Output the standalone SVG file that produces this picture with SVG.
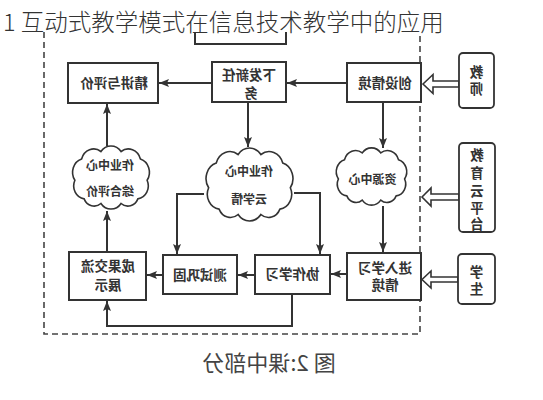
<svg xmlns="http://www.w3.org/2000/svg" xmlns:xlink="http://www.w3.org/1999/xlink" width="543" height="400" viewBox="0 0 543 400">
<style>
.bx{fill:#fff;stroke:#333;stroke-width:2}
.side{fill:#fff;stroke:#333;stroke-width:1.8}
.cloud{fill:#fff;stroke:#333;stroke-width:1.6}
.ln{fill:none;stroke:#333;stroke-width:2}
.dash{fill:none;stroke:#444;stroke-width:1.6;stroke-dasharray:6 4}
.hol{fill:#fff;stroke:#333;stroke-width:1.6;stroke-linejoin:miter}
.t{font-family:"Noto Sans CJK SC","Noto Sans",sans-serif;font-size:13.5px;font-weight:700;fill:#333;text-anchor:middle}
.tc{font-family:"Noto Sans CJK SC","Noto Sans",sans-serif;font-size:12px;font-weight:700;fill:#333;text-anchor:middle}
.title{font-family:"Noto Sans CJK SC","Noto Sans",sans-serif;font-size:23.5px;font-weight:300;fill:#333}
.cap{font-family:"Noto Sans CJK SC","Noto Sans",sans-serif;font-size:22px;fill:#444;text-anchor:middle}
</style>
<defs>
<marker id="ah" viewBox="0 0 10 8" refX="10" refY="4" markerWidth="10" markerHeight="8" markerUnits="userSpaceOnUse" orient="auto">
<path d="M0,0 L10,4 L0,8 L2,4 z" fill="#333"/>
</marker>
<symbol id="cloudshape" viewBox="0 0 100 70" preserveAspectRatio="none" overflow="visible">
<path vector-effect="non-scaling-stroke" d="M18,58 A14,14 0 0 1 7,38 A15,15 0 0 1 15,15 A15,15 0 0 1 38,7 A15,15 0 0 1 62,7 A15,15 0 0 1 85,15 A15,15 0 0 1 93,38 A14,14 0 0 1 82,58 A13,13 0 0 1 62,63 A15,15 0 0 1 38,63 A13,13 0 0 1 18,58 z"/>
</symbol>
</defs>
<rect width="543" height="400" fill="#fff"/>

<g id="boundary">
<path class="dash" d="M44,32 V334 H420 V32"/>
</g>

<g id="connectors">
<line class="ln" x1="347" y1="83" x2="287" y2="83" marker-end="url(#ah)"/>
<line class="ln" x1="212" y1="83" x2="159" y2="83" marker-end="url(#ah)"/>
<line class="ln" x1="248" y1="102" x2="248" y2="147" marker-end="url(#ah)"/>
<line class="ln" x1="383" y1="102" x2="383" y2="148" marker-end="url(#ah)"/>
<line class="ln" x1="107" y1="146" x2="107" y2="104" marker-end="url(#ah)"/>
<line class="ln" x1="107" y1="252" x2="107" y2="211" marker-end="url(#ah)"/>
<path class="ln" d="M204,194 H177 V254" marker-end="url(#ah)"/>
<path class="ln" d="M294,193 H320 V254" marker-end="url(#ah)"/>
<line class="ln" x1="383" y1="206" x2="383" y2="252" marker-end="url(#ah)"/>
<line class="ln" x1="347" y1="274" x2="331" y2="274" marker-end="url(#ah)"/>
<line class="ln" x1="255" y1="275" x2="238" y2="275" marker-end="url(#ah)"/>
<line class="ln" x1="163" y1="275" x2="147" y2="275" marker-end="url(#ah)"/>
<path class="ln" d="M292,294 V326 H107 V301" marker-end="url(#ah)"/>
<polygon class="hol" points="423,84 433,74.5 433,81 459,81 459,87 433,87 433,93.5"/>
<polygon class="hol" points="422,197 431,188 431,194 459,194 459,200 431,200 431,206"/>
<polygon class="hol" points="422,279.5 431,271 431,277 458,277 458,282 431,282 431,288"/>
</g>

<g id="top-box">
<path class="ln" d="M195,32 V44 H286 V32"/>
</g>

<g id="n-jingjiang">
<rect class="bx" x="68" y="63" width="90" height="40"/>
<g transform="scale(-1,1)"><text class="t" x="-114" y="88">精讲与评价</text></g>
</g>
<g id="n-xiafa">
<rect class="bx" x="212" y="62" width="74" height="40"/>
<g transform="scale(-1,1)"><text class="t" x="-249" y="80">下发新任</text><text class="t" x="-251" y="98">务</text></g>
</g>
<g id="n-chuangshe">
<rect class="bx" x="347" y="63" width="74" height="39"/>
<g transform="scale(-1,1)"><text class="t" x="-385" y="88">创设情境</text></g>
</g>
<g id="n-teacher">
<rect class="side" x="459" y="53" width="35" height="55" rx="4"/>
<g transform="scale(-1,1)"><text class="t" x="-476.5" y="77">教</text><text class="t" x="-476.5" y="94">师</text></g>
</g>
<g id="n-platform">
<rect class="side" x="459" y="143" width="36" height="89" rx="4"/>
<g transform="scale(-1,1)"><text class="t" x="-477" y="160">教</text><text class="t" x="-477" y="178">育</text><text class="t" x="-477" y="196">云</text><text class="t" x="-477" y="213">平</text><text class="t" x="-477" y="229">台</text></g>
</g>
<g id="n-student">
<rect class="side" x="458" y="254" width="37" height="50" rx="4"/>
<g transform="scale(-1,1)"><text class="t" x="-476.5" y="277">学</text><text class="t" x="-476.5" y="294">生</text></g>
</g>

<g id="n-cloud-eval">
<use xlink:href="#cloudshape" class="cloud" x="69" y="145" width="84" height="65"/>
<g transform="scale(-1,1)"><text class="tc" x="-110" y="169.5">作业中心</text><text class="tc" x="-110" y="196">综合评价</text></g>
</g>
<g id="n-cloud-xueqing">
<use xlink:href="#cloudshape" class="cloud" x="202" y="147" width="95" height="75"/>
<g transform="scale(-1,1)"><text class="tc" x="-249" y="175.5">作业中心</text><text class="tc" x="-249" y="203.5">云学情</text></g>
</g>
<g id="n-cloud-resource">
<use xlink:href="#cloudshape" class="cloud" x="333" y="147" width="77" height="59"/>
<g transform="scale(-1,1)"><text class="tc" x="-372.5" y="183.5">资源中心</text></g>
</g>

<g id="n-chengguo">
<rect class="bx" x="69" y="252" width="77" height="48"/>
<g transform="scale(-1,1)"><text class="t" x="-108" y="271">成果交流</text><text class="t" x="-108" y="290">展示</text></g>
</g>
<g id="n-ceshi">
<rect class="bx" x="163" y="255" width="74" height="39"/>
<g transform="scale(-1,1)"><text class="t" x="-200" y="280">测试巩固</text></g>
</g>
<g id="n-xiezuo">
<rect class="bx" x="255" y="255" width="75" height="39"/>
<g transform="scale(-1,1)"><text class="t" x="-292.5" y="279">协作学习</text></g>
</g>
<g id="n-jinru">
<rect class="bx" x="347" y="253" width="74" height="47"/>
<g transform="scale(-1,1)"><text class="t" x="-385" y="273">进入学习</text><text class="t" x="-385" y="290">情境</text></g>
</g>

<g id="caption">
<g transform="scale(-1,1)"><text class="cap" x="-269" y="371">图 2:课中部分</text></g>
</g>

<g id="title">
<text class="title" x="3" y="31">1 互动式教学模式在信息技术教学中的应用</text>
</g>
</svg>
